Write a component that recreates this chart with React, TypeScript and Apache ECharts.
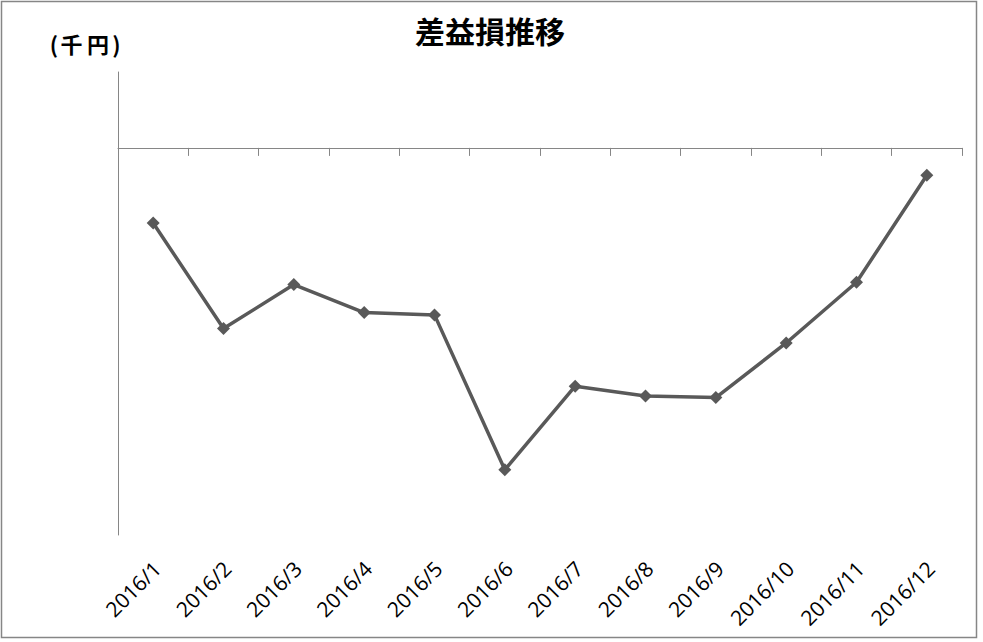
import React, { useEffect, useRef } from 'react';
import * as echarts from 'echarts';

const months = [
  '2016/1', '2016/2', '2016/3', '2016/4', '2016/5', '2016/6',
  '2016/7', '2016/8', '2016/9', '2016/10', '2016/11', '2016/12',
];
// 差益損 (千円)
const profitLoss = [-990, -2380, -1800, -2170, -2200, -4240, -3140, -3270, -3290, -2570, -1770, -360];
const yMin = -5100;
const yMax = 1000;

const AXIS_GRAY = '#868686';
const LINE_GRAY = '#595959';
const CJK = '"Noto Sans CJK JP", "Noto Sans", sans-serif';

const unitText = (text: string, x: number) => ({
  type: 'text',
  x,
  y: 43,
  style: {
    text,
    fill: '#000',
    font: `bold 22px ${CJK}`,
    align: 'center',
    verticalAlign: 'middle',
  },
});

const App: React.FC = () => {
  const chartRef = useRef<HTMLDivElement>(null);

  // eslint-disable-next-line consistent-return
  useEffect(() => {
    if (chartRef.current) {
      const chart = echarts.init(chartRef.current, undefined, { renderer: 'svg' });
      chart.setOption({
        animation: false,
        backgroundColor: '#fff',
        grid: {
          left: 118,
          right: 21,
          top: 72,
          bottom: 107,
          containLabel: false,
          outerBoundsMode: 'none',
        },
        graphic: [
          {
            type: 'rect',
            shape: { x: 1.5, y: 1.5, width: 975, height: 636 },
            style: { fill: 'none', stroke: AXIS_GRAY, lineWidth: 1.5 },
          },
          {
            type: 'text',
            x: 490,
            y: 30,
            style: {
              text: '差益損推移',
              fill: '#000',
              font: `bold 30px ${CJK}`,
              align: 'center',
              verticalAlign: 'middle',
            },
          },
          unitText('(', 54),
          unitText('千', 71.5),
          unitText('円', 98),
          unitText(')', 116.5),
        ],
        xAxis: [
          {
            type: 'category',
            data: months,
            boundaryGap: true,
            axisLine: { show: true, onZero: true, lineStyle: { color: AXIS_GRAY, width: 1 } },
            axisTick: { show: true, length: 8, lineStyle: { color: AXIS_GRAY } },
            axisLabel: { show: false },
            splitLine: { show: false },
          },
          {
            type: 'category',
            data: months,
            position: 'bottom',
            boundaryGap: true,
            axisLine: { show: false, onZero: false },
            axisTick: { show: false },
            splitLine: { show: false },
            axisLabel: {
              interval: 0,
              rotate: 45,
              margin: 19,
              align: 'right',
              verticalAlign: 'top',
              padding: [0, 5, 0, 0],
              color: '#000',
              fontSize: 21,
              fontFamily: '"Open Sans", sans-serif',
            },
          },
        ],
        yAxis: {
          type: 'value',
          min: yMin,
          max: yMax,
          axisLine: { show: true, onZero: false, lineStyle: { color: AXIS_GRAY, width: 1 } },
          axisTick: { show: false },
          axisLabel: { show: false },
          splitLine: { show: false },
        },
        series: [
          {
            name: '差益損',
            type: 'line',
            xAxisIndex: 0,
            yAxisIndex: 0,
            data: profitLoss,
            symbol: 'diamond',
            symbolSize: 13,
            lineStyle: { color: LINE_GRAY, width: 3.5 },
            itemStyle: { color: LINE_GRAY },
          },
        ],
      });

      return () => {
        chart.dispose();
      };
    }
  }, []);

  return (
    <div
      ref={chartRef}
      style={{ position: 'fixed', left: 0, top: 0, width: '983px', height: '642px' }}
    />
  );
};

export default App;
